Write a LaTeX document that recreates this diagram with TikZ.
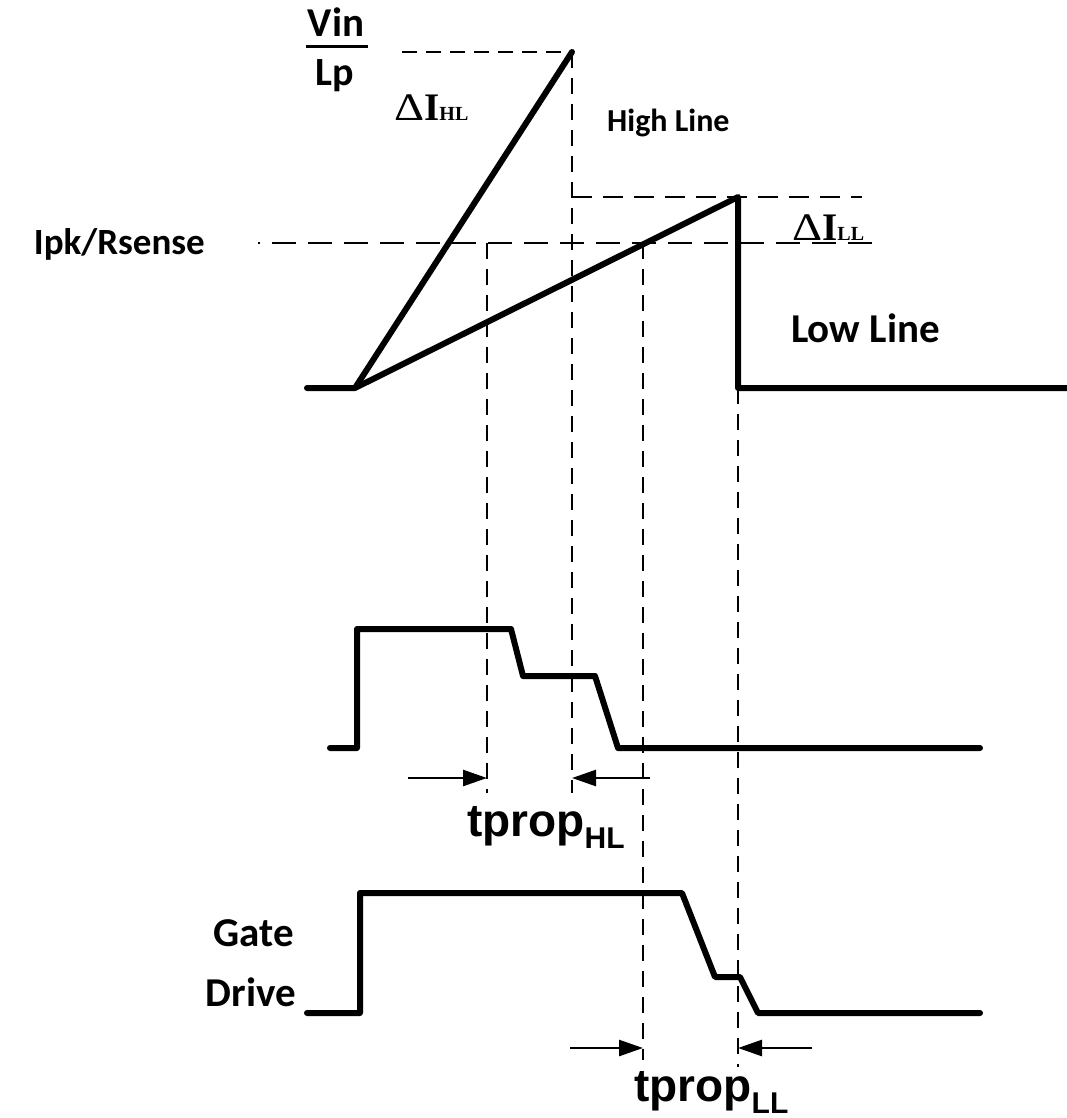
\documentclass[tikz,border=0pt]{standalone}
\usepackage{graphicx}
\usepackage{fontspec}
\setmainfont{Carlito}
\newfontfamily\tmsfont{Liberation Serif}
\newfontfamily\arlfont{Liberation Sans}
\usetikzlibrary{arrows.meta}
\tikzset{
  wave/.style={line width=6pt, line cap=round, line join=round},
  guide/.style={line width=2.5pt, dash pattern=on 16pt off 10pt},
  dimarrow/.style={line width=2.6pt, -{Triangle[length=24pt,width=16pt]}},
  lbl/.style={inner sep=0pt, font=\bfseries\fontsize{41}{41}\selectfont},
  hlbl/.style={inner sep=0pt, font=\bfseries\fontsize{32}{32}\selectfont},
  dlbl/.style={inner sep=0pt, font=\tmsfont\fontsize{39}{39}\selectfont},
  tlbl/.style={inner sep=0pt, font=\arlfont\bfseries\fontsize{46}{46}\selectfont},
}
\newcommand{\delI}[1]{\scalebox{1.2}[1]{Δ}{\bfseries I}{\bfseries\fontsize{20}{20}\selectfont #1}}
\newcommand{\tsub}[1]{\raisebox{-12pt}{\fontsize{30}{30}\selectfont #1}}
\begin{document}
\begin{tikzpicture}[x=1pt,y=-1pt]
\useasboundingbox (0,0) rectangle (1067,1118);
% key coordinates
\coordinate (i0) at (307,388);
\coordinate (iv) at (355,388);
\coordinate (ihl) at (572,52);
\coordinate (ill) at (738,197);
\coordinate (idrop) at (738,388);
\coordinate (iend) at (1067,388);
\coordinate (topL) at (402,52);
\coordinate (hlB) at (572,793);
\coordinate (llA) at (572,197);
\coordinate (llB) at (862,197);
\coordinate (ipA) at (258,243);
\coordinate (ipB) at (877,243);
\coordinate (v1A) at (487,243);
\coordinate (v1B) at (487,793);
\coordinate (v2A) at (643,243);
\coordinate (v2B) at (643,1060);
\coordinate (v3B) at (738,1067);
\coordinate (a1s) at (408,778);
\coordinate (a1e) at (487,778);
\coordinate (a2s) at (650,778);
\coordinate (a2e) at (572,778);
\coordinate (a3s) at (570,1048);
\coordinate (a3e) at (643,1048);
\coordinate (a4s) at (812,1048);
\coordinate (a4e) at (738,1048);
\coordinate (barL) at (306,47);
\coordinate (barR) at (368,47);

% dashed guides
\draw[guide, dash pattern=on 15pt off 9pt] (topL) -- (ihl);
\draw[guide] (ihl) -- (hlB);
\draw[guide, dash pattern=on 20pt off 11pt] (llA) -- (llB);
\draw[guide, dash pattern=on 24pt off 12pt, dash phase=22pt] (ipA) -- (ipB);
\draw[guide] (v1A) -- (v1B);
\draw[guide] (v2A) -- (v2B);
\draw[guide] (idrop) -- (v3B);

% current waveforms
\draw[wave] (i0) -- (iv) -- (ihl);
\draw[wave] (iv) -- (ill) -- (idrop) -- (iend);

% comparator waveform
\draw[wave] (330,748) -- (357,748) -- (357,629) -- (511,629) -- (523,676)
  -- (595,676) -- (618,748) -- (980,748);

% gate drive waveform
\draw[wave] (307,1013) -- (360,1013) -- (360,893) -- (682,893) -- (715,977)
  -- (740,977) -- (758,1013) -- (980,1013);

% dimension arrows
\draw[dimarrow] (a1s) -- (a1e);
\draw[dimarrow] (a2s) -- (a2e);
\draw[dimarrow] (a3s) -- (a3e);
\draw[dimarrow] (a4s) -- (a4e);

% labels
\node[lbl, anchor=base] (vin) at (336,37) {Vin};
\draw[line width=3pt] (barL) -- (barR);
\node[lbl, anchor=base, font=\bfseries\fontsize{40}{40}\selectfont] (lp) at (335,86) {Lp};
\node[dlbl, anchor=base west] (dhl) at (394,121) {\delI{HL}};
\node[dlbl, anchor=base west] (dll) at (792,240) {\delI{LL}};
\node[hlbl, anchor=base west] (high) at (607,132) {High Line};
\node[lbl, anchor=base west] (low) at (791,342) {Low Line};
\node[lbl, anchor=base east, font=\bfseries\fontsize{37}{37}\selectfont] (ipk) at (205,254) {Ipk/Rsense};
\node[lbl, anchor=base east] (gate) at (294,946) {Gate};
\node[lbl, anchor=base east] (drive) at (296,1006) {Drive};
\node[tlbl, anchor=base west] (thl) at (467,836) {tprop\tsub{HL}};
\node[tlbl, anchor=base west] (tll) at (634,1101) {tprop\tsub{LL}};
\end{tikzpicture}
\end{document}
